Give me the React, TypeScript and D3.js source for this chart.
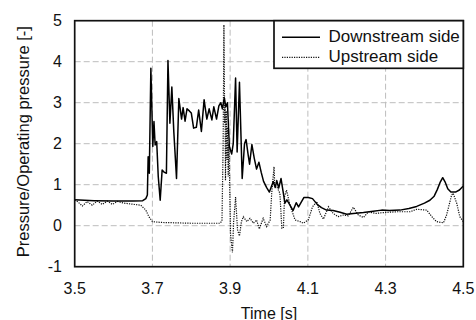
import React from "react";
import * as d3 from "d3";

const xTicks = [3.5, 3.7, 3.9, 4.1, 4.3, 4.5];
const xTickLabels = ["3.5", "3.7", "3.9", "4.1", "4.3", "4.5"];
const yTicks = [-1, 0, 1, 2, 3, 4, 5];
const yTickLabels = ["-1", "0", "1", "2", "3", "4", "5"];
const seriesNames = ["Downstream side", "Upstream side"];

const downstream: [number, number][] = [
  [3.5, 0.63], [3.55, 0.61], [3.6, 0.6], [3.65, 0.6], [3.675, 0.61], [3.683, 0.66], [3.687, 0.75],
  [3.689, 1.68], [3.692, 1.28], [3.696, 3.84], [3.701, 1.93], [3.704, 2.54], [3.707, 1.97],
  [3.711, 2.05], [3.715, 1.2], [3.72, 0.62], [3.725, 1.36], [3.731, 1.3], [3.736, 1.28],
  [3.74, 4.03], [3.745, 2.5], [3.75, 3.38], [3.755, 2.3], [3.762, 1.15], [3.768, 3.1],
  [3.775, 2.6], [3.779, 2.88], [3.784, 2.55], [3.789, 2.85], [3.795, 2.8], [3.8, 2.75],
  [3.806, 2.38], [3.813, 2.4], [3.819, 2.82], [3.826, 2.3], [3.833, 3.07], [3.84, 2.6],
  [3.846, 2.85], [3.853, 2.58], [3.858, 2.9], [3.865, 2.6], [3.871, 2.92], [3.876, 3.0],
  [3.88, 2.85], [3.885, 3.12], [3.889, 2.9], [3.893, 3.0], [3.898, 1.93], [3.904, 1.75],
  [3.908, 2.0], [3.914, 3.6], [3.918, 1.8], [3.924, 3.5], [3.931, 1.15], [3.937, 2.0],
  [3.941, 2.1], [3.946, 1.75], [3.95, 1.5], [3.956, 1.98], [3.962, 1.65], [3.968, 1.38],
  [3.974, 1.55], [3.98, 1.3], [3.986, 1.08], [3.994, 0.93], [4.001, 0.82], [4.006, 0.95],
  [4.011, 1.08], [4.016, 0.93], [4.02, 1.1], [4.025, 0.92], [4.031, 1.15], [4.036, 0.85],
  [4.041, 0.55], [4.046, 0.63], [4.054, 0.5], [4.062, 0.37], [4.07, 0.56], [4.076, 0.46],
  [4.09, 0.69], [4.101, 0.69], [4.112, 0.66], [4.124, 0.52], [4.135, 0.44], [4.148, 0.38],
  [4.165, 0.37], [4.183, 0.33], [4.2, 0.28], [4.217, 0.3], [4.243, 0.32], [4.268, 0.35],
  [4.29, 0.38], [4.31, 0.37], [4.337, 0.38], [4.36, 0.42], [4.38, 0.47], [4.4, 0.55],
  [4.414, 0.62], [4.425, 0.72], [4.433, 0.88], [4.44, 1.05], [4.447, 1.17], [4.453, 1.07],
  [4.46, 0.9], [4.468, 0.82], [4.48, 0.82], [4.49, 0.87], [4.5, 0.97],
];

const upstream: [number, number][] = [
  [3.5, 0.63], [3.507, 0.59], [3.52, 0.48], [3.532, 0.59], [3.545, 0.5], [3.558, 0.6],
  [3.571, 0.52], [3.584, 0.6], [3.597, 0.52], [3.61, 0.59], [3.627, 0.55], [3.644, 0.53],
  [3.67, 0.5], [3.683, 0.38], [3.691, 0.22], [3.7, 0.1], [3.721, 0.08], [3.76, 0.07],
  [3.8, 0.06], [3.84, 0.06], [3.874, 0.06], [3.879, 0.12], [3.882, 2.0], [3.884, 4.9],
  [3.886, 2.5], [3.887, 3.0], [3.888, 1.1], [3.89, 2.8], [3.892, 1.6], [3.893, 2.4],
  [3.895, 1.2], [3.897, 2.0], [3.899, 0.9], [3.901, -0.2], [3.904, -0.5], [3.906, -0.65],
  [3.909, 0.1], [3.914, 0.7], [3.919, -0.1], [3.924, -0.25], [3.929, 0.1], [3.934, 0.22],
  [3.943, 0.1], [3.951, 0.18], [3.96, 0.06], [3.968, 0.14], [3.975, -0.08], [3.985, 0.18],
  [3.994, -0.02], [4.003, 0.14], [4.007, 0.79], [4.013, 1.44], [4.015, 0.95], [4.02, 0.95],
  [4.024, 0.87], [4.028, 0.79], [4.033, -0.06], [4.037, -0.06], [4.04, 0.71], [4.045, 0.87],
  [4.054, 0.5], [4.067, 0.14], [4.08, 0.1], [4.088, 0.06], [4.101, 0.14], [4.112, 0.46],
  [4.123, 0.59], [4.131, 0.3], [4.14, 0.16], [4.153, 0.46], [4.165, 0.3], [4.178, 0.22],
  [4.191, 0.26], [4.204, 0.24], [4.217, 0.45], [4.23, 0.26], [4.243, 0.2], [4.256, 0.34],
  [4.275, 0.3], [4.294, 0.32], [4.329, 0.34], [4.363, 0.34], [4.38, 0.4], [4.406, 0.38],
  [4.419, 0.22], [4.431, 0.1], [4.449, 0.07], [4.457, 0.26], [4.47, 0.75], [4.474, 0.79],
  [4.483, 0.55], [4.491, 0.22], [4.5, 0.1],
];

const W = 476, H = 320;
const L = 74.7, R = 463.3, T = 20.7, B = 266.7;
const FONT = "'Liberation Sans', Arial, sans-serif";

export default function App() {
  const x = d3.scaleLinear().domain([3.5, 4.5]).range([L, R]);
  const y = d3.scaleLinear().domain([-1, 5]).range([B, T]);
  const line = d3.line<[number, number]>().x(d => x(d[0])).y(d => y(d[1]));

  return (
    <svg width={W} height={H} style={{ position: "absolute", left: 0, top: 0, background: "#fff" }} fontFamily={FONT}>
      <defs>
        <clipPath id="plot"><rect x={L} y={T} width={R - L} height={B - T} /></clipPath>
      </defs>
      {xTicks.slice(1, -1).map(t => (
        <line key={"gx" + t} x1={x(t)} x2={x(t)} y1={T} y2={B} stroke="#bdbdbd" strokeWidth={1} strokeDasharray="6 3" />
      ))}
      {yTicks.slice(1, -1).map(t => (
        <line key={"gy" + t} x1={L} x2={R} y1={y(t)} y2={y(t)} stroke="#bdbdbd" strokeWidth={1} strokeDasharray="6 3" />
      ))}
      <g clipPath="url(#plot)">
        <path d={line(upstream) || ""} fill="none" stroke="#111" strokeWidth={1.2} strokeDasharray="1.2 1.2" />
        <path d={line(downstream) || ""} fill="none" stroke="#000" strokeWidth={1.5} strokeLinejoin="round" />
      </g>
      <rect x={L} y={T} width={R - L} height={B - T} fill="none" stroke="#111" strokeWidth={1.7} />
      {xTicks.map((t, i) => (
        <text key={"xt" + t} x={x(t)} y={293.5} fontSize={16} textAnchor="middle" fill="#111">{xTickLabels[i]}</text>
      ))}
      {yTicks.map((t, i) => (
        <text key={"yt" + t} x={62} y={y(t) + 5.7} fontSize={16} textAnchor="end" fill="#111">{yTickLabels[i]}</text>
      ))}
      <text x={(L + R) / 2} y={318.5} fontSize={16} textAnchor="middle" fill="#111">Time [s]</text>
      <text transform={`translate(29,${(T + B) / 2 - 2}) rotate(-90)`} fontSize={16.5} textAnchor="middle" fill="#111">Pressure/Operating pressure [-]</text>
      <rect x={274} y={T} width={R - 274} height={68.3 - T} fill="#fff" stroke="#111" strokeWidth={1.7} />
      <line x1={282} x2={320} y1={37.3} y2={37.3} stroke="#000" strokeWidth={1.5} />
      <line x1={282} x2={320} y1={57.3} y2={57.3} stroke="#111" strokeWidth={1.2} strokeDasharray="1.2 1.2" />
      <text x={328.5} y={41.5} fontSize={17} fill="#111">{seriesNames[0]}</text>
      <text x={328.5} y={61.5} fontSize={17} fill="#111">{seriesNames[1]}</text>
    </svg>
  );
}
